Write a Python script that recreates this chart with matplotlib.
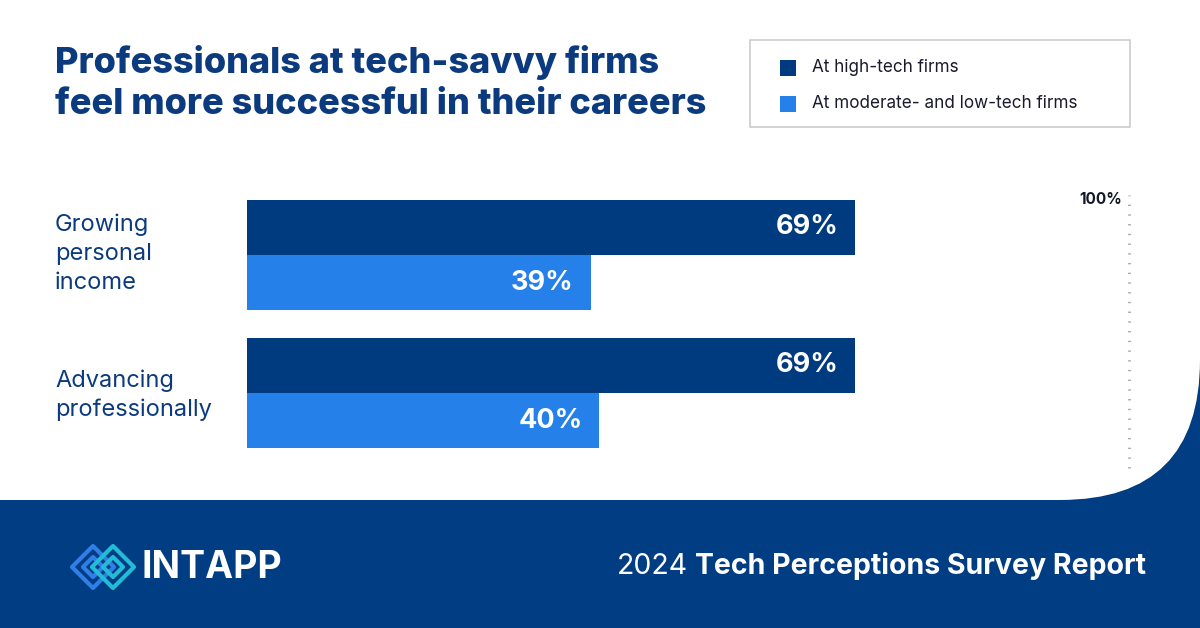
import numpy as np
import matplotlib.pyplot as plt
from matplotlib.patches import FancyBboxPatch, Rectangle, Polygon

# 数据
categories = ['Growing\npersonal\nincome', 'Advancing\nprofessionally']
high_tech = [69, 69]
low_tech = [39, 40]
series_names = ['At high-tech firms', 'At moderate- and low-tech firms']

dark = '#003b80'
light = '#2580ea'
navy = '#0b3a7e'
band = '#003d82'

plt.rcParams['font.family'] = ['Inter', 'DejaVu Sans']

fig = plt.figure(figsize=(12, 6.28), dpi=100)

# 背景（像素坐标）
bg = fig.add_axes([0, 0, 1, 1])
bg.set_xlim(0, 1200)
bg.set_ylim(628, 0)
bg.axis('off')
bg.add_patch(Rectangle((0, 0), 1200, 628, color=band, zorder=0))
bg.add_patch(FancyBboxPatch((-300, -300), 1500, 800,
                            boxstyle='round,pad=0,rounding_size=140',
                            fc='white', ec='none', zorder=1))

# 标题
bg.text(55, 62, 'Professionals at tech-savvy firms', fontsize=26, fontweight='heavy',
        color=navy, va='center', zorder=3)
bg.text(55, 105, 'feel more successful in their careers', fontsize=26, fontweight='heavy',
        color=navy, va='center', zorder=3)

# 图例
bg.add_patch(Rectangle((750, 40), 380, 87, fc='white', ec='#cccccc', lw=1.2, zorder=2))
for k, (name, c) in enumerate(zip(series_names, [dark, light])):
    y = 68 + k * 36
    bg.add_patch(Rectangle((780, y - 8), 16, 16, fc=c, ec='none', zorder=3))
    bg.text(812, y, name, fontsize=12.3, color='#1a1a2e', va='center', zorder=3)

# 底部
def diamond(cx, cy, r, color, lw):
    pts = [(cx - r, cy), (cx, cy - r), (cx + r, cy), (cx, cy + r)]
    bg.add_patch(Polygon(pts, closed=True, fill=False, ec=color, lw=lw,
                         joinstyle='round', zorder=3))

diamond(93, 567, 21, '#2f7fe6', 3)
diamond(93, 567, 10, '#2f7fe6', 3)
diamond(113, 567, 21, '#22bcd8', 3)
diamond(113, 567, 10, '#22bcd8', 3)
bg.text(142, 568, 'INTAPP', fontsize=27, fontweight='bold', color='white',
        va='center', zorder=3)

t_bold = bg.text(1146, 566, 'Tech Perceptions Survey Report', fontsize=20.5,
                 fontweight='bold', color='white', ha='right', va='center', zorder=3)
fig.canvas.draw()
ext = t_bold.get_window_extent()
x_left = bg.transData.inverted().transform((ext.x0, ext.y0))[0]
bg.text(x_left - 7, 566, '2024', fontsize=20.5, color='white',
        ha='right', va='center', zorder=3)

# 条形图
ax = fig.add_axes([247 / 1200, 1 - 468 / 628, (1128 - 247) / 1200, (468 - 195) / 628])
ax.set_facecolor('none')
ax.set_zorder(2)
h = 55 / 138
y = np.arange(len(categories))
ax.barh(y - h / 2, high_tech, height=h, color=dark)
ax.barh(y + h / 2, low_tech, height=h, color=light)
ax.set_xlim(0, 100)
ax.set_ylim(213 / 138, -60 / 138)
ax.axis('off')
ax.axvline(100.1, color='#a8a8a8', lw=2, ls=(0, (0.5, 3)), ymin=0, ymax=1,
           clip_on=False)
ax.text(99.3, -0.40, '100%', fontsize=11, fontweight='bold', color='#111827',
        ha='right', va='center')

for i in range(len(categories)):
    ax.text(high_tech[i] - 1.9, i - h / 2, f'{high_tech[i]}%', color='white',
            fontsize=19.5, fontweight='bold', ha='right', va='center')
    ax.text(low_tech[i] - 1.9, i + h / 2, f'{low_tech[i]}%', color='white',
            fontsize=19.5, fontweight='bold', ha='right', va='center')
    bg.text(55, 254 + i * 141, categories[i], fontsize=17, color=navy,
            va='center', linespacing=1.4, zorder=3)

fig.savefig('out.png', dpi=100)
